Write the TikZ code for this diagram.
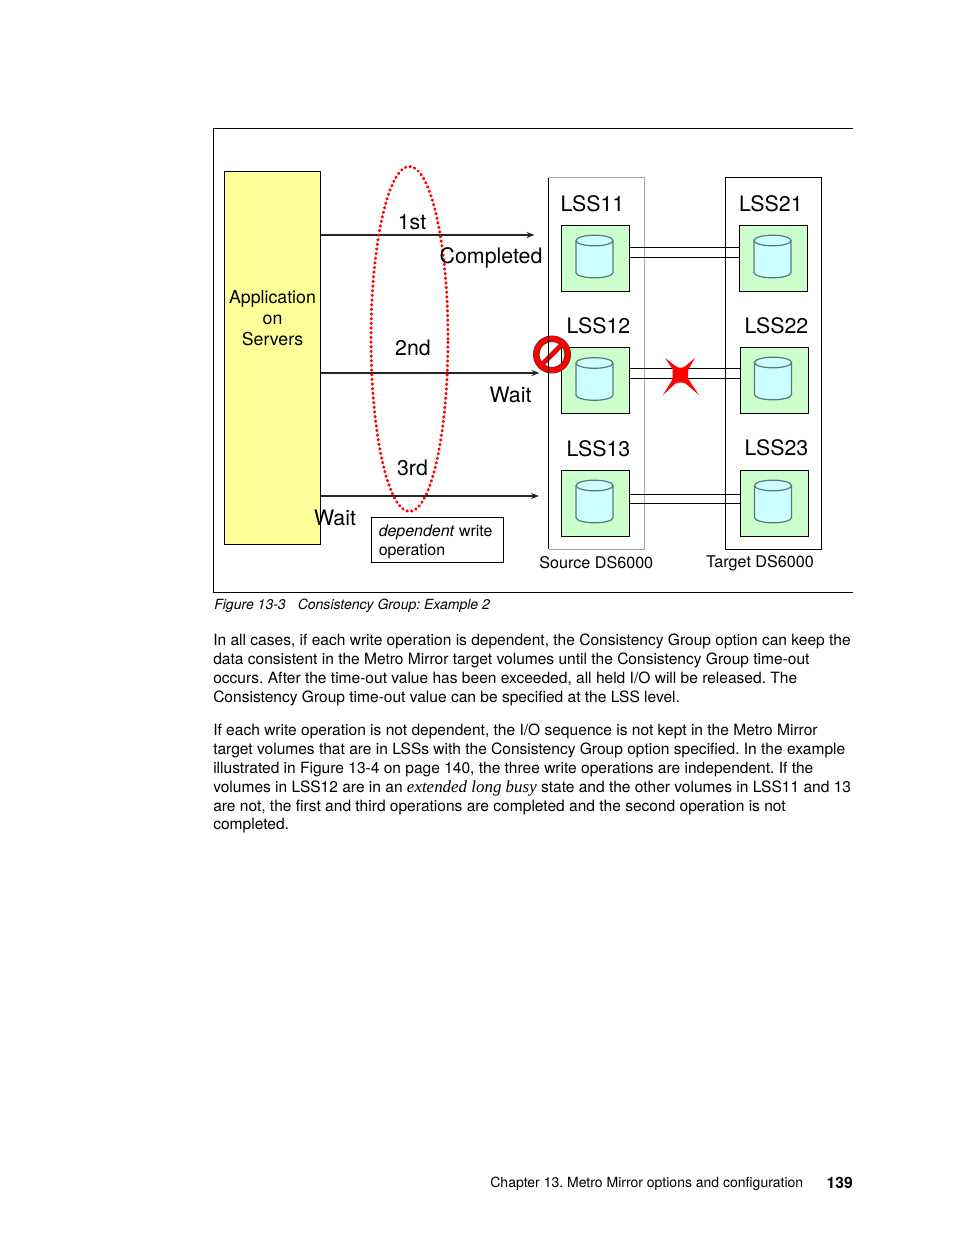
\documentclass[tikz,border=0pt]{standalone}
\usepackage{fontspec}
\usepackage{xcolor}
\setmainfont{TeX Gyre Heros}
\newfontfamily\timesfont{Liberation Serif}
\usetikzlibrary{shapes.geometric, arrows.meta}
\definecolor{serveryellow}{RGB}{255, 255, 153}
\definecolor{lssgreen}{RGB}{204, 255, 204}
\definecolor{diskcyan}{RGB}{204, 255, 255}
\definecolor{diskedge}{RGB}{90, 120, 120}
\definecolor{framegray}{RGB}{165, 165, 165}
\definecolor{stopred}{RGB}{255, 0, 0}

\begin{document}
\frenchspacing
\begin{tikzpicture}[
        x=0.75pt, y=-0.75pt,
        >={Stealth[length=6pt, width=4.5pt]},
        box/.style={draw, line width=0.75pt, inner sep=0pt, outer sep=0pt},
        lssbox/.style={box, fill=lssgreen, minimum width=68*0.75pt, minimum height=66*0.75pt},
        disk/.style={draw=diskedge, line width=0.9pt, fill=diskcyan},
        lsslabel/.style={font=\fontsize{16}{18}\selectfont, inner sep=0pt},
        writelabel/.style={font=\fontsize{16}{18}\selectfont, inner sep=0pt},
        smalllabel/.style={font=\fontsize{12.1}{14.25}\selectfont, inner sep=0pt},
        bodytext/.style={font=\fontsize{11.66}{14.1}\selectfont, align=left, anchor=north west, inner sep=0pt},
        writearrow/.style={->, line width=1pt, black!85},
        mirrorline/.style={line width=0.75pt}
    ]
    \useasboundingbox (0,0) rectangle (954,1235);

    % Outer frame, open on the right
    \coordinate (frametr) at (853,128.5);
    \coordinate (frametl) at (213.5,128.5);
    \coordinate (framebl) at (213.5,592.5);
    \coordinate (framebr) at (853,592.5);
    \draw[line width=0.75pt] (frametr) -- (frametl) -- (framebl) -- (framebr);

    % Servers
    \node[box, fill=serveryellow, minimum width=96*0.75pt, minimum height=373*0.75pt] (servers) at (272.5,358) {};
    \node[font=\fontsize{13.3}{15.75}\selectfont, align=center, inner sep=0pt] (serverstext) at (272.5,318) {Application\\on\\Servers};

    % Source and target boxes
    \coordinate (srctl) at (548.5,177.5);
    \coordinate (srctr) at (644,177.5);
    \coordinate (srcbl) at (548.5,549);
    \coordinate (srcbr) at (644,549);
    \draw[line width=0.75pt, framegray] (srctl) -- (srctr) -- (srcbr) -- (srcbl);
    \node[box, minimum width=96*0.75pt, minimum height=372*0.75pt] (target) at (773.5,363.5) {};

    % LSS boxes
    \foreach \name/\cx/\cy in {lss11/595.5/258, lss21/773.5/258, lss12/595.5/380.5, lss22/774/380, lss13/595.5/503, lss23/774/503} {
        \node[lssbox] (\name) at (\cx,\cy) {};
        \begin{scope}[shift={(\cx-1,\cy)}]
            \draw[disk] (-18.5,-17.5) -- (-18.5,14.5) arc[start angle=180, end angle=0, x radius=18.5, y radius=5.3]
                -- (18.5,-17.5) arc[start angle=0, end angle=-180, x radius=18.5, y radius=5.3] -- cycle;
            \draw[disk, fill=none] (-18.5,-17.5) arc[start angle=180, end angle=0, x radius=18.5, y radius=5.3];
        \end{scope}
    }
    \node[lsslabel] (label11) at (592.5,204) {LSS11};
    \node[lsslabel] (label21) at (770.8,204) {LSS21};
    \node[lsslabel] (label12) at (598.5,326) {LSS12};
    \node[lsslabel] (label22) at (776.5,326) {LSS22};
    \node[lsslabel] (label13) at (598.5,449) {LSS13};
    \node[lsslabel] (label23) at (776.5,448) {LSS23};

    % Mirror links
    \foreach \from/\to/\yone/\ytwo in {lss11/lss21/247.5/257.5, lss12/lss22/368.5/378.5, lss13/lss23/494.5/503.5} {
        \draw[mirrorline] (\from.east |- 0,\yone) -- (\to.west |- 0,\yone);
        \draw[mirrorline] (\from.east |- 0,\ytwo) -- (\to.west |- 0,\ytwo);
    }

    % Writes
    \coordinate (end1) at (534.5,235);
    \coordinate (end2) at (539.5,373);
    \coordinate (end3) at (539,496);
    \draw[writearrow] (servers.east |- end1) -- (end1);
    \draw[writearrow] (servers.east |- end2) -- (end2);
    \draw[writearrow] (servers.east |- end3) -- (end3);

    % Dotted ellipse
    \node[ellipse, draw=stopred, line width=2.4pt, line cap=round, dash pattern=on 0.2pt off 3.3pt,
        minimum width=77*0.75pt, minimum height=345*0.75pt, inner sep=0pt] (group) at (409.5,339) {};

    \node[writelabel] (first) at (412,222) {1st};
    \node[writelabel] (completed) at (491,258) {Completed};
    \node[writelabel] (second) at (413,348) {2nd};
    \node[writelabel] (waittwo) at (510.5,395) {Wait};
    \node[writelabel] (third) at (412.5,468) {3rd};
    \node[writelabel] (waitthree) at (335,518) {Wait};

    % Dependent write note
    \node[box, minimum width=132*0.75pt, minimum height=45*0.75pt] (note) at (437.5,540) {};
    \node[smalllabel, font=\fontsize{11.95}{14.1}\selectfont, align=left, anchor=north west] (notetext) at (378.5,524.5) {\textit{dependent} write\\operation};

    \node[smalllabel] (source) at (596.3,563) {Source DS6000};
    \node[smalllabel] (targetname) at (760,563.5) {Target DS6000};

    % Broken link cross
    \coordinate (cross) at (680.5,375);
    \fill[stopred, shift={(cross)}] (-15.5,-17) -- (-5,-9) -- (-2,-7.5) -- (2,-7.5) -- (5,-9) -- (14.5,-17)
        -- (8,-6) -- (7.5,-3) -- (7.5,3) -- (9,6) -- (18.5,20) -- (5,8.5) -- (2,7.5) -- (-2,7.5) -- (-5,8.5) -- (-17.5,20)
        -- (-9,6) -- (-8,3) -- (-8,-3) -- (-8,-6) -- cycle;

    % No entry sign
    \coordinate (stop) at (552,354.5);
    \draw[black!80, line width=4.9pt] (stop) circle (11.8pt);
    \draw[black!80, line width=3.6pt] ([shift={(-7.6pt,-7.6pt)}]stop) -- ([shift={(7.6pt,7.6pt)}]stop);
    \draw[stopred, line width=4.1pt] (stop) circle (11.8pt);
    \draw[stopred, line width=3pt] ([shift={(-8.3pt,-8.3pt)}]stop) -- ([shift={(8.3pt,8.3pt)}]stop);
    \draw[line width=0.75pt] (srctl) -- (srcbl);

    % Page text
    \node[font=\fontsize{10.52}{12}\itshape\selectfont, anchor=west, inner sep=0pt] (caption) at (214,605.5) {Figure 13-3\hspace{9pt}Consistency Group: Example 2};
    \node[bodytext] (parone) at (213,634) {In all cases, if each write operation is dependent, the Consistency Group option can keep the\\
        data consistent in the Metro Mirror target volumes until the Consistency Group time-out\\
        occurs. After the time-out value has been exceeded, all held I/O will be released. The\\
        Consistency Group time-out value can be specified at the LSS level.};
    \node[bodytext] (partwo) at (213,724) {If each write operation is not dependent, the I/O sequence is not kept in the Metro Mirror\\
        target volumes that are in LSSs with the Consistency Group option specified. In the example\\
        illustrated in Figure 13-4 on page 140, the three write operations are independent. If the\\
        volumes in LSS12 are in an {\timesfont\itshape\fontsize{12.7}{14.1}\selectfont extended long busy} state and the other volumes in LSS11 and 13\\
        are not, the first and third operations are completed and the second operation is not\\
        completed.};

    % Footer
    \node[font=\fontsize{10.5}{12}\selectfont, anchor=east, inner sep=0pt] (footer) at (803.5,1184) {Chapter 13. Metro Mirror options and configuration};
    \node[font=\fontsize{11.7}{14}\bfseries\selectfont, anchor=east, inner sep=0pt] (pagenum) at (853,1182.5) {139};
\end{tikzpicture}
\end{document}
